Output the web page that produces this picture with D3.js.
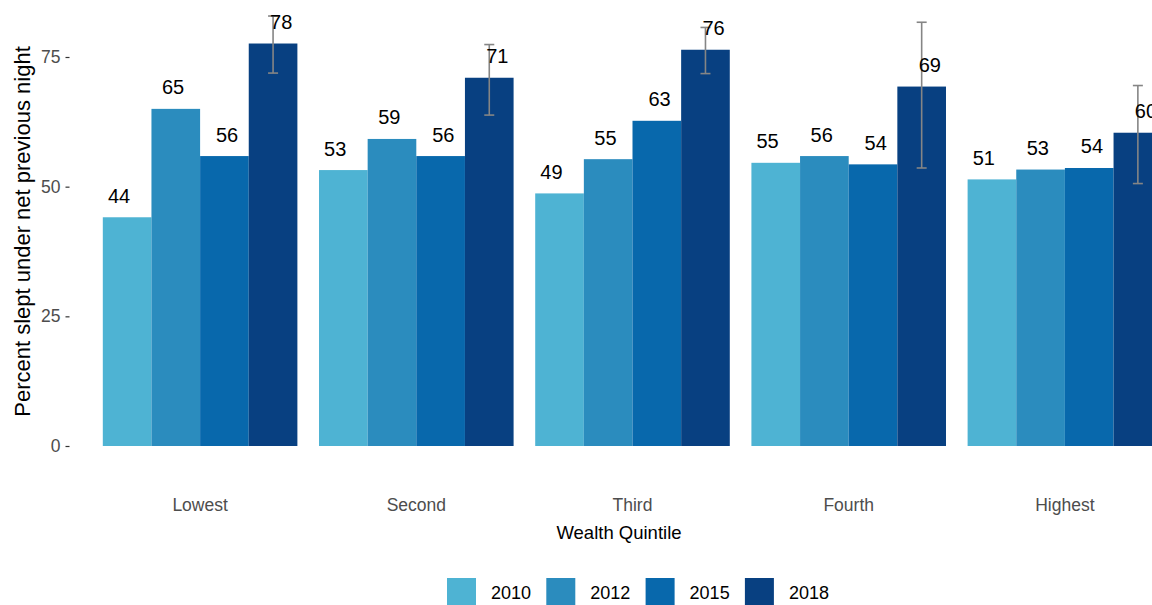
<!DOCTYPE html>
<html>
<head>
<meta charset="utf-8">
<script src="https://cdn.jsdelivr.net/npm/d3@7"></script>
<style>
  html, body { margin: 0; padding: 0; background: #fff; }
  svg { display: block; font-family: "Liberation Sans", Arial, sans-serif; }
</style>
</head>
<body>
<svg id="chart" width="1152" height="605"></svg>
<script>
const categories = ["Lowest", "Second", "Third", "Fourth", "Highest"];
const years = ["2010", "2012", "2015", "2018"];
const v2010 = [44.1, 53.2, 48.7, 54.6, 51.4];
const v2012 = [65.0, 59.2, 55.3, 55.9, 53.3];
const v2015 = [55.9, 55.9, 62.7, 54.3, 53.6];
const v2018 = [77.6, 71.0, 76.4, 69.3, 60.4];
const ciLow2018 = [71.9, 63.8, 71.8, 53.6, 50.6];
const ciHigh2018 = [82.9, 77.4, 80.7, 81.7, 69.5];
const yTicks = [0, 25, 50, 75];
const colors = ["#4eb3d3", "#2b8cbe", "#0868ac", "#084081"];

const seriesVals = [v2010, v2012, v2015, v2018];
const rows = [];
categories.forEach((c, ci) => {
  years.forEach((yr, yi) => {
    rows.push({ cat: c, year: yr, yi: yi, value: seriesVals[yi][ci] });
  });
});

const svg = d3.select("#chart");
const x0 = d3.scaleBand().domain(categories).range([92, 1173]).paddingInner(0.1).paddingOuter(0.05);
const x1 = d3.scaleBand().domain(years).range([0, x0.bandwidth()]);
const y = d3.scaleLinear().domain([0, 75]).range([446, 57]);
const color = d3.scaleOrdinal().domain(years).range(colors);

// bars
svg.append("g").selectAll("rect").data(rows).join("rect")
  .attr("x", d => x0(d.cat) + x1(d.year))
  .attr("y", d => y(d.value))
  .attr("width", x1.bandwidth())
  .attr("height", d => y(0) - y(d.value))
  .attr("fill", d => color(d.year));

// error bars for 2018
const errG = svg.append("g").attr("stroke", "#858585").attr("stroke-width", 1.6).attr("fill", "none");
categories.forEach((c, ci) => {
  const cx = x0(c) + x1("2018") + x1.bandwidth() / 2;
  const lo = y(ciLow2018[ci]), hi = y(ciHigh2018[ci]);
  errG.append("line").attr("x1", cx).attr("x2", cx).attr("y1", lo).attr("y2", hi);
  errG.append("line").attr("x1", cx - 5).attr("x2", cx + 5).attr("y1", lo).attr("y2", lo);
  errG.append("line").attr("x1", cx - 5).attr("x2", cx + 5).attr("y1", hi).attr("y2", hi);
});

// value labels (dodged with full width)
const dodge = x0.step() / 4;
svg.append("g").selectAll("text").data(rows).join("text")
  .attr("x", d => x0(d.cat) + x0.bandwidth() / 2 + (d.yi - 1.5) * dodge)
  .attr("y", d => y(d.value) - 14.5)
  .attr("text-anchor", "middle")
  .attr("font-size", 20)
  .attr("fill", "#000")
  .text(d => Math.round(d.value));

// y axis
const yAxis = d3.axisLeft(y).tickValues(yTicks).tickSize(4).tickPadding(5);
const yg = svg.append("g").attr("transform", "translate(69.5,0)").call(yAxis);
yg.select(".domain").remove();
yg.selectAll(".tick line").attr("stroke", "#333").attr("stroke-width", 1.2);
yg.selectAll(".tick text").attr("font-size", 17.5).attr("fill", "#4d4d4d")
  .attr("font-family", "'Liberation Sans', Arial, sans-serif");

// x axis labels
const xAxis = d3.axisBottom(x0).tickSize(0).tickPadding(0);
const xg = svg.append("g").attr("transform", "translate(0,503)").call(xAxis);
xg.select(".domain").remove();
xg.selectAll(".tick text").attr("font-size", 17.5).attr("fill", "#4d4d4d")
  .attr("dy", "0.45em")
  .attr("font-family", "'Liberation Sans', Arial, sans-serif");

// axis titles
svg.append("text").attr("x", 619).attr("y", 538.5).attr("text-anchor", "middle")
  .attr("font-size", 18.5).attr("fill", "#000").text("Wealth Quintile");
svg.append("text").attr("transform", "translate(30,231.5) rotate(-90)").attr("text-anchor", "middle")
  .attr("font-size", 22).attr("fill", "#000").text("Percent slept under net previous night");

// legend
const leg = svg.append("g");
years.forEach((yr, i) => {
  const lx = 447 + i * 99.3;
  leg.append("rect").attr("x", lx).attr("y", 578).attr("width", 29).attr("height", 27).attr("fill", color(yr));
  leg.append("text").attr("x", lx + 44).attr("y", 599).attr("font-size", 18).attr("fill", "#000").text(yr);
});
</script>
</body>
</html>
